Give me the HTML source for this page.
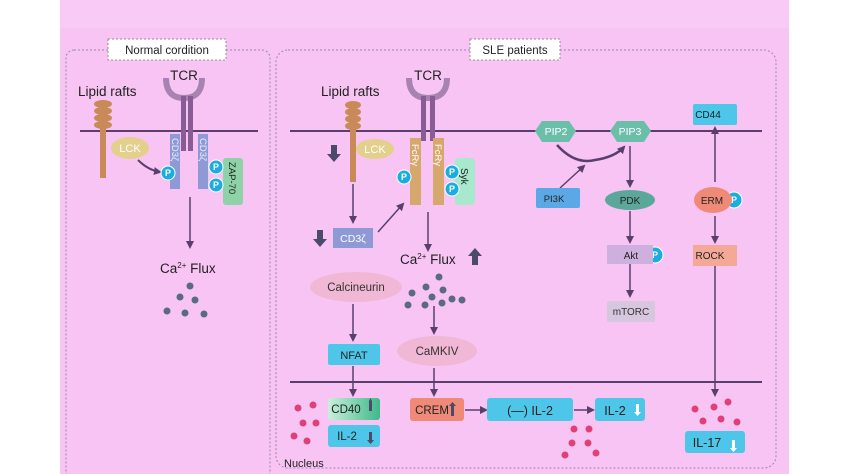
<!DOCTYPE html>
<html><head><meta charset="utf-8"><style>
html,body{margin:0;padding:0;background:#fff;}
svg{display:block;font-family:"Liberation Sans",sans-serif;}
</style></head><body>
<svg width="850" height="474" viewBox="0 0 850 474" xmlns="http://www.w3.org/2000/svg">
<defs>
<marker id="a" markerWidth="8" markerHeight="8" refX="6" refY="4" orient="auto" markerUnits="userSpaceOnUse"><path d="M0,0 L8,4 L0,8 z" fill="#5a3f6e"/></marker>
<linearGradient id="cd40" x1="0" x2="1"><stop offset="0" stop-color="#c8f0dc"/><stop offset="1" stop-color="#3fb88a"/></linearGradient>
</defs>
<rect x="60" y="0" width="729" height="474" fill="#f8c4f4"/>
<rect x="60" y="0" width="729" height="28" fill="#f8caf5"/>
<!-- panels -->
<rect x="66" y="50" width="204" height="430" rx="8" fill="none" stroke="#9a8aa0" stroke-dasharray="2,2"/>
<rect x="276" y="50" width="500" height="418" rx="12" fill="none" stroke="#9a8aa0" stroke-dasharray="2,2"/>
<rect x="108" y="39" width="118" height="21" fill="#fff" stroke="#9a8aa0" stroke-dasharray="2,2"/>
<text x="167" y="54" font-size="11.5" text-anchor="middle" fill="#222">Normal cordition</text>
<rect x="470" y="39" width="90" height="21" fill="#fff" stroke="#9a8aa0" stroke-dasharray="2,2"/>
<text x="515" y="54" font-size="11.5" text-anchor="middle" fill="#222">SLE patients</text>

<!-- membranes -->
<line x1="80" y1="131" x2="258" y2="131" stroke="#5a3f6e" stroke-width="2"/>
<line x1="290" y1="131" x2="762" y2="131" stroke="#5a3f6e" stroke-width="2"/>
<line x1="290" y1="382" x2="762" y2="382" stroke="#5a3f6e" stroke-width="2"/>

<!-- LEFT -->
<text x="78" y="96" font-size="13.5" fill="#222">Lipid rafts</text>
<rect x="100" y="122" width="6" height="56" fill="#c98a5a"/>
<ellipse cx="103" cy="104" rx="9" ry="4" fill="#c98a5a"/><ellipse cx="103" cy="111" rx="9" ry="4" fill="#c98a5a"/><ellipse cx="103" cy="118" rx="9" ry="4" fill="#c98a5a"/><ellipse cx="103" cy="125" rx="9" ry="4" fill="#c98a5a"/>
<path d="M166,78 Q166,98 184,98 Q202,98 202,78" fill="none" stroke="#a882b0" stroke-width="6"/>
<text x="184" y="80" font-size="13.5" text-anchor="middle" fill="#222">TCR</text>
<rect x="181" y="96" width="5" height="55" fill="#8a5c96"/><rect x="188" y="96" width="5" height="55" fill="#8a5c96"/>
<rect x="170" y="134" width="10" height="55" fill="#8d9ad6"/><rect x="198" y="134" width="10" height="55" fill="#8d9ad6"/>
<text transform="translate(172,138) rotate(90)" font-size="9.5" fill="#eef">CD3ζ</text>
<text transform="translate(200,138) rotate(90)" font-size="9.5" fill="#eef">CD3ζ</text>
<ellipse cx="130" cy="148" rx="19" ry="11" fill="#e2d08c"/>
<text x="130" y="152" font-size="11" text-anchor="middle" fill="#fff">LCK</text>
<path d="M138,160 Q148,170 160,172" fill="none" stroke="#5a3f6e" stroke-width="2" marker-end="url(#a)"/>
<rect x="223" y="158" width="20" height="47" rx="3" fill="#8ed3a8"/>
<text transform="translate(229,162) rotate(90)" font-size="9.5" fill="#222">ZAP-70</text>
<g fill="#1aaee0" stroke="#fff" stroke-width="1"><circle cx="168" cy="173" r="7"/><circle cx="216" cy="167" r="7"/><circle cx="216" cy="185" r="7"/></g>
<g font-size="9" fill="#fff" text-anchor="middle" font-weight="bold"><text x="168" y="176">P</text><text x="216" y="170">P</text><text x="216" y="188">P</text></g>
<line x1="190" y1="197" x2="190" y2="247" stroke="#5a3f6e" stroke-width="1.5" marker-end="url(#a)"/>
<text x="160" y="273" font-size="13.5" fill="#222">Ca<tspan font-size="8" dy="-5">2+</tspan><tspan dy="5"> Flux</tspan></text>
<g fill="#5a6a80"><circle cx="190" cy="286" r="3.5"/><circle cx="180" cy="297" r="3.5"/><circle cx="195" cy="300" r="3.5"/><circle cx="167" cy="311" r="3.5"/><circle cx="185" cy="313" r="3.5"/><circle cx="204" cy="314" r="3.5"/></g>

<!-- RIGHT receptors -->
<text x="321" y="96" font-size="13.5" fill="#222">Lipid rafts</text>
<rect x="350" y="122" width="6" height="60" fill="#c98a5a"/>
<ellipse cx="353" cy="105" rx="8" ry="4" fill="#c98a5a"/><ellipse cx="353" cy="112" rx="8" ry="4" fill="#c98a5a"/><ellipse cx="353" cy="119" rx="8" ry="4" fill="#c98a5a"/><ellipse cx="353" cy="126" rx="8" ry="4" fill="#c98a5a"/>
<path d="M409,78 Q409,98 428,98 Q447,98 447,78" fill="none" stroke="#a882b0" stroke-width="6"/>
<text x="428" y="80" font-size="13.5" text-anchor="middle" fill="#222">TCR</text>
<rect x="421" y="96" width="5" height="45" fill="#8a5c96"/><rect x="430" y="96" width="5" height="45" fill="#8a5c96"/>
<rect x="410" y="138" width="11" height="67" fill="#d7a86e"/><rect x="433" y="138" width="11" height="67" fill="#d7a86e"/>
<text transform="translate(412,144) rotate(90)" font-size="9.5" fill="#fff">FcRγ</text>
<text transform="translate(435,144) rotate(90)" font-size="9.5" fill="#fff">FcRγ</text>
<rect x="455" y="158" width="20" height="47" rx="4" fill="#a8e8cc"/>
<text transform="translate(461,168) rotate(90)" font-size="10" fill="#222">Syk</text>
<ellipse cx="375" cy="149" rx="19" ry="10" fill="#e2d08c"/>
<text x="375" y="153" font-size="11" text-anchor="middle" fill="#fff">LCK</text>
<g fill="#1aaee0" stroke="#fff" stroke-width="1"><circle cx="404" cy="177" r="7"/><circle cx="452" cy="172" r="7"/><circle cx="452" cy="189" r="7"/><circle cx="655" cy="255" r="8"/><circle cx="734" cy="200" r="8"/></g>
<g font-size="9" fill="#fff" text-anchor="middle" font-weight="bold"><text x="404" y="180">P</text><text x="452" y="175">P</text><text x="452" y="192">P</text><text x="655" y="258">P</text><text x="734" y="203">P</text></g>
<!-- thick arrows -->
<g fill="#4a4a6a"><path d="M331,145 h6 v9 h4 l-7,8 l-7,-8 h4 z"/><path d="M317,230 h6 v9 h4 l-7,8 l-7,-8 h4 z"/><path d="M472,265 h6 v-9 h4 l-7,-8 l-7,8 h4 z"/></g>
<line x1="353" y1="184" x2="353" y2="222" stroke="#5a3f6e" stroke-width="1.5" marker-end="url(#a)"/>
<rect x="333" y="228" width="40" height="20" fill="#8d9ad6"/>
<text x="353" y="242" font-size="10.5" text-anchor="middle" fill="#fff">CD3ζ</text>
<line x1="378" y1="232" x2="403" y2="204" stroke="#5a3f6e" stroke-width="1.5" marker-end="url(#a)"/>
<line x1="428" y1="212" x2="428" y2="250" stroke="#5a3f6e" stroke-width="1.5" marker-end="url(#a)"/>
<text x="400" y="264" font-size="13.5" fill="#222">Ca<tspan font-size="8" dy="-5">2+</tspan><tspan dy="5"> Flux</tspan></text>
<g fill="#5a6a80"><circle cx="439" cy="277" r="3.5"/><circle cx="426" cy="287" r="3.5"/><circle cx="443" cy="290" r="3.5"/><circle cx="412" cy="293" r="3.5"/><circle cx="432" cy="297" r="3.5"/><circle cx="452" cy="299" r="3.5"/><circle cx="408" cy="305" r="3.5"/><circle cx="425" cy="305" r="3.5"/><circle cx="442" cy="303" r="3.5"/><circle cx="462" cy="300" r="3.5"/></g>
<ellipse cx="356" cy="287" rx="46" ry="15" fill="#f0b8d4"/>
<text x="356" y="291" font-size="11.5" text-anchor="middle" fill="#333">Calcineurin</text>
<line x1="353" y1="304" x2="353" y2="340" stroke="#5a3f6e" stroke-width="1.5" marker-end="url(#a)"/>
<rect x="328" y="344" width="52" height="21" rx="2" fill="#4dc6ea"/>
<text x="354" y="359" font-size="11" text-anchor="middle" fill="#222">NFAT</text>
<line x1="434" y1="306" x2="434" y2="333" stroke="#5a3f6e" stroke-width="1.5" marker-end="url(#a)"/>
<ellipse cx="437" cy="351" rx="40" ry="15" fill="#f0b8d4"/>
<text x="437" y="355" font-size="11.5" text-anchor="middle" fill="#333">CaMKIV</text>
<line x1="353" y1="366" x2="353" y2="395" stroke="#5a3f6e" stroke-width="1.5" marker-end="url(#a)"/>
<line x1="434" y1="368" x2="434" y2="395" stroke="#5a3f6e" stroke-width="1.5" marker-end="url(#a)"/>
<!-- nucleus -->
<rect x="328" y="398" width="52" height="22" rx="3" fill="url(#cd40)"/>
<text x="346" y="413" font-size="11.5" text-anchor="middle" fill="#222">CD40</text>
<rect x="328" y="425" width="52" height="22" rx="3" fill="#4dc6ea"/>
<text x="347" y="440" font-size="11.5" text-anchor="middle" fill="#222">IL-2</text>
<rect x="410" y="398" width="54" height="23" rx="3" fill="#f08a78"/>
<text x="432" y="414" font-size="11.5" text-anchor="middle" fill="#222">CREM</text>
<line x1="465" y1="410" x2="486" y2="410" stroke="#5a3f6e" stroke-width="1.5" marker-end="url(#a)"/>
<rect x="487" y="398" width="86" height="23" rx="3" fill="#4dc6ea"/>
<text x="530" y="415" font-size="12.5" text-anchor="middle" fill="#222">(—)   IL-2</text>
<line x1="574" y1="410" x2="593" y2="410" stroke="#5a3f6e" stroke-width="1.5" marker-end="url(#a)"/>
<rect x="595" y="398" width="50" height="23" rx="3" fill="#4dc6ea"/>
<text x="615" y="415" font-size="12.5" text-anchor="middle" fill="#222">IL-2</text>
<rect x="685" y="431" width="60" height="22" rx="3" fill="#4dc6ea"/>
<text x="707" y="447" font-size="12.5" text-anchor="middle" fill="#222">IL-17</text>
<g fill="#4a4a6a"><path d="M369,403 h3 v-2 l-1.5,-3 l-1.5,3 z M369,403 h3 v8 h-3z"/><path d="M369,440 h3 v-8 h-3z M367,440 h7 l-3.5,4z"/><path d="M451,406 h3 v10 h-3z M449,406 h7 l-3.5,-4z"/><path d="M710,111 h3 v8 h-3z M708,111 h7 l-3.5,-4z"/><path d="M731,252 h3 v8 h-3z M729,252 h7 l-3.5,-4z"/></g>
<g fill="#fff"><path d="M636,404 h3 v8 h-3z M634,412 h7 l-3.5,4z"/><path d="M732,440 h3 v8 h-3z M730,448 h7 l-3.5,4z"/><path d="M569,200 h3 v8 h-3z M567,200 h7 l-3.5,-4z"/></g>
<g fill="#e0407a"><circle cx="298" cy="408" r="3.5"/><circle cx="313" cy="405" r="3.5"/><circle cx="303" cy="423" r="3.5"/><circle cx="316" cy="423" r="3.5"/><circle cx="294" cy="436" r="3.5"/><circle cx="307" cy="441" r="3.5"/>
<circle cx="574" cy="429" r="3.5"/><circle cx="589" cy="429" r="3.5"/><circle cx="572" cy="443" r="3.5"/><circle cx="588" cy="443" r="3.5"/><circle cx="565" cy="455" r="3.5"/><circle cx="596" cy="453" r="3.5"/>
<circle cx="695" cy="409" r="3.5"/><circle cx="714" cy="407" r="3.5"/><circle cx="728" cy="402" r="3.5"/><circle cx="703" cy="421" r="3.5"/><circle cx="721" cy="419" r="3.5"/><circle cx="737" cy="422" r="3.5"/></g>
<text x="284" y="467" font-size="11" fill="#222">Nucleus</text>

<!-- PI3K pathway -->
<polygon points="535,131 542,121 569,121 576,131 569,142 542,142" fill="#6bbfa8"/>
<text x="556" y="135" font-size="10.5" text-anchor="middle" fill="#fff">PIP2</text>
<polygon points="610,131 617,121 644,121 651,131 644,142 617,142" fill="#6bbfa8"/>
<text x="630" y="135" font-size="10.5" text-anchor="middle" fill="#fff">PIP3</text>
<path d="M557,145 Q575,165 595,160 Q615,157 624,147" fill="none" stroke="#5a3f6e" stroke-width="2.5" marker-end="url(#a)"/>
<line x1="560" y1="188" x2="584" y2="166" stroke="#5a3f6e" stroke-width="1.5" marker-end="url(#a)"/>
<rect x="536" y="188" width="44" height="20" rx="2" fill="#5aa8e6"/>
<text x="554" y="202" font-size="9.5" text-anchor="middle" fill="#222">PI3K</text>
<line x1="630" y1="146" x2="630" y2="186" stroke="#5a3f6e" stroke-width="1.5" marker-end="url(#a)"/>
<ellipse cx="630" cy="200" rx="25" ry="10" fill="#5ba89a"/>
<text x="630" y="204" font-size="10" text-anchor="middle" fill="#222">PDK</text>
<line x1="630" y1="211" x2="630" y2="242" stroke="#5a3f6e" stroke-width="1.5" marker-end="url(#a)"/>
<rect x="607" y="245" width="46" height="19" fill="#cdb0de"/>
<text x="631" y="259" font-size="10" text-anchor="middle" fill="#222">Akt</text>
<line x1="630" y1="264" x2="630" y2="296" stroke="#5a3f6e" stroke-width="1.5" marker-end="url(#a)"/>
<rect x="607" y="301" width="48" height="21" rx="2" fill="#d6c6de"/>
<text x="631" y="315" font-size="10" text-anchor="middle" fill="#333">mTORC</text>
<rect x="693" y="104" width="44" height="21" rx="2" fill="#4dc6ea"/>
<text x="708" y="118" font-size="10" text-anchor="middle" fill="#222">CD44</text>
<line x1="715" y1="182" x2="715" y2="128" stroke="#5a3f6e" stroke-width="1.5" marker-end="url(#a)"/>
<ellipse cx="713" cy="200" rx="19" ry="13" fill="#f08a78"/>
<text x="712" y="204" font-size="10" text-anchor="middle" fill="#222">ERM</text>
<line x1="715" y1="216" x2="715" y2="242" stroke="#5a3f6e" stroke-width="1.5" marker-end="url(#a)"/>
<rect x="693" y="245" width="44" height="21" fill="#f4a898"/>
<text x="710" y="259" font-size="10" text-anchor="middle" fill="#222">ROCK</text>
<line x1="715" y1="266" x2="715" y2="395" stroke="#5a3f6e" stroke-width="1.5" marker-end="url(#a)"/>
</svg>
</body></html>
